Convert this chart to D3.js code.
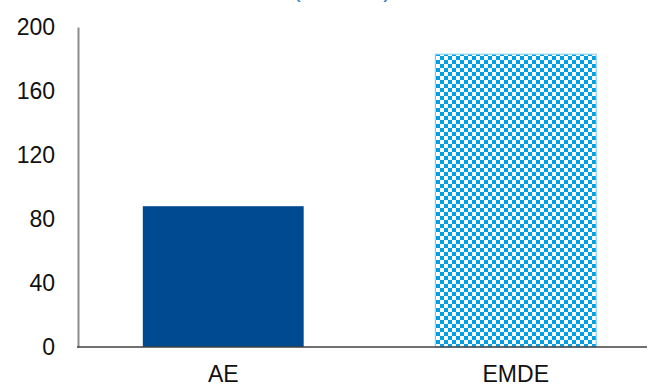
<!DOCTYPE html>
<html>
<head>
<meta charset="utf-8">
<script src="https://cdn.jsdelivr.net/npm/d3@7"></script>
<style>
  body { margin: 0; background: #fff; }
  text { font-family: "Liberation Sans", Arial, sans-serif; }
</style>
</head>
<body>
<div id="chart"></div>
<script>
const categories = ["AE", "EMDE"];
const values = [88, 183];
const yTicks = [0, 40, 80, 120, 160, 200];
const subtitle = "(Percent)";

const width = 649, height = 389;

const svg = d3.select("#chart")
    .append("svg")
    .attr("width", width)
    .attr("height", height);

const defs = svg.append("defs");
const pat = defs.append("pattern")
    .attr("id", "checker")
    .attr("patternUnits", "userSpaceOnUse")
    .attr("width", 8)
    .attr("height", 8);
pat.append("rect").attr("width", 8).attr("height", 8).attr("fill", "#fff");
pat.append("rect").attr("width", 4).attr("height", 4).attr("fill", "#00a0e6");
pat.append("rect").attr("x", 4).attr("y", 4).attr("width", 4).attr("height", 4).attr("fill", "#00a0e6");

const x = d3.scaleBand()
    .domain(categories)
    .range([77, 662])
    .paddingInner(0.45)
    .paddingOuter(0.225);

const y = d3.scaleLinear()
    .domain([0, 200])
    .range([347, 27]);

// subtitle sits mostly above the frame, as in the source
svg.append("text")
    .attr("x", 342)
    .attr("y", -3)
    .attr("text-anchor", "middle")
    .style("font-size", "24px")
    .style("fill", "#2f7fc8")
    .text(subtitle);

// bars
svg.selectAll("rect.bar")
    .data(categories)
    .enter()
    .append("rect")
    .attr("class", "bar")
    .attr("x", d => x(d))
    .attr("width", x.bandwidth())
    .attr("y", (d, i) => y(values[i]))
    .attr("height", (d, i) => y(0) - y(values[i]))
    .attr("fill", (d, i) => i === 0 ? "#004a91" : "url(#checker)")
    .attr("stroke", (d, i) => i === 0 ? "none" : "#7ccdf2")
    .attr("stroke-width", 1);

// y axis
const yAxis = svg.append("g")
    .attr("transform", "translate(78,0)")
    .call(d3.axisLeft(y).tickValues(yTicks).tickSize(0).tickPadding(23));
yAxis.select(".domain").attr("stroke", "#8c8c8c").attr("stroke-width", 2);
yAxis.selectAll("text")
    .style("font-size", "23px")
    .style("fill", "#111");

// baseline
svg.append("line")
    .attr("x1", 77)
    .attr("x2", 647)
    .attr("y1", y(0))
    .attr("y2", y(0))
    .attr("stroke", "#404040")
    .attr("stroke-width", 1.5);

// category labels
const xAxis = svg.append("g")
    .attr("transform", `translate(0,${y(0)})`)
    .call(d3.axisBottom(x).tickSize(0).tickPadding(19));
xAxis.select(".domain").remove();
xAxis.selectAll("text")
    .style("font-size", "23px")
    .style("fill", "#111");
</script>
</body>
</html>
